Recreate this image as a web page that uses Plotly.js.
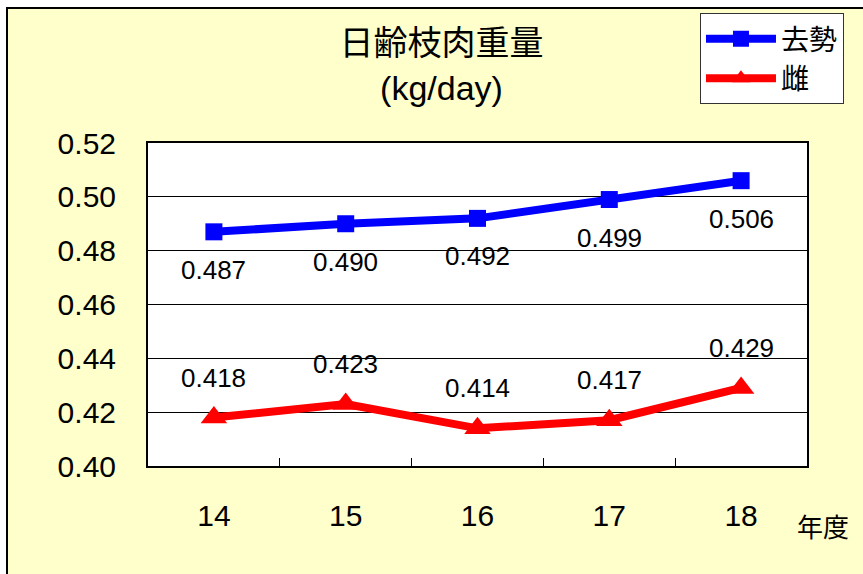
<!DOCTYPE html>
<html>
<head>
<meta charset="utf-8">
<script src="https://cdn.plot.ly/plotly-3.0.1.min.js"></script>
<style>
  html, body { margin:0; padding:0; background:#ffffff; width:863px; height:574px; overflow:hidden; }
  #frame { position:absolute; left:6px; top:7px; width:857px; height:567px; border-left:2px solid #000; border-top:2px solid #000; background:#FFFFCC; }
  #chart { position:absolute; left:0; top:0; width:855px; height:565px; }
</style>
</head>
<body>
<div id="frame"><div id="chart"></div></div>
<script>
const years = ['14', '15', '16', '17', '18'];
const castrated = [0.487, 0.490, 0.492, 0.499, 0.506];
const female = [0.418, 0.423, 0.414, 0.417, 0.429];
const seriesNames = ['去勢', '雌'];
const titleText = '日齢枝肉重量<br>(kg/day)';
const xAxisLabel = '年度';
const yTicks = [0.40, 0.42, 0.44, 0.46, 0.48, 0.50, 0.52];

const FONT = 'Liberation Sans, Arial, Noto Sans CJK JP, sans-serif';
const CJK = 'Noto Sans CJK JP, sans-serif';

const traces = [
  {
    x: years, y: castrated, name: seriesNames[0], type: 'scatter', mode: 'lines+markers',
    line: {color: '#0000FF', width: 8},
    marker: {symbol: 'square', size: 17, color: '#0000FF'},
    cliponaxis: false
  },
  {
    x: years, y: female, name: seriesNames[1], type: 'scatter', mode: 'lines+markers',
    line: {color: '#FF0000', width: 8},
    marker: {symbol: 'triangle-up', size: 23, color: '#FF0000'},
    cliponaxis: false
  }
];

const annotations = [];
years.forEach((yr, i) => {
  annotations.push({x: i, y: castrated[i], xref: 'x', yref: 'y', text: castrated[i].toFixed(3),
    showarrow: false, yshift: -38, font: {family: FONT, size: 26, color: '#000'}});
  annotations.push({x: i, y: female[i], xref: 'x', yref: 'y', text: female[i].toFixed(3),
    showarrow: false, yshift: 40, font: {family: FONT, size: 26, color: '#000'}});
});
annotations.push({xref: 'paper', yref: 'paper', x: 1.024, y: -0.183, xanchor: 'center', yanchor: 'middle',
  text: xAxisLabel, showarrow: false, font: {family: CJK, size: 26, color: '#000'}});

const layout = {
  width: 855, height: 565,
  paper_bgcolor: '#FFFFCC', plot_bgcolor: '#FFFFFF',
  margin: {l: 140, r: 56, t: 134, b: 108, autoexpand: false},
  font: {family: FONT, color: '#000'},
  title: {text: titleText, font: {family: FONT + ', ' + CJK, size: 34, color: '#000'},
    x: 0.507, xref: 'container', xanchor: 'center', y: 0.918, yref: 'container', yanchor: 'top'},
  xaxis: {
    type: 'category', range: [-0.5, 4.5], showgrid: false, showline: true, linecolor: '#000', linewidth: 2, mirror: true,
    ticks: 'inside', tickson: 'boundaries', ticklen: 8, tickcolor: '#000', tickwidth: 1,
    tickfont: {family: FONT, size: 30, color: '#000'}, ticklabelstandoff: 22, zeroline: false,
    tickangle: 0, automargin: false
  },
  yaxis: {
    range: [0.40, 0.52], tickvals: yTicks, ticktext: yTicks.map(v => v.toFixed(2)),
    showgrid: true, gridcolor: '#000', gridwidth: 1, showline: true, linecolor: '#000', linewidth: 2, mirror: true,
    ticks: '', tickfont: {family: FONT, size: 30, color: '#000'}, ticklabelstandoff: 24, zeroline: false,
    automargin: false
  },
  legend: {
    xref: 'paper', yref: 'paper', x: 0.8376, xanchor: 'left', y: 1.402, yanchor: 'top',
    bgcolor: '#FFFFFF', bordercolor: '#333', borderwidth: 1,
    font: {family: CJK, size: 28, color: '#000'}, itemwidth: 70, tracegroupgap: 0
  },
  annotations: annotations,
  showlegend: true
};

Plotly.newPlot('chart', traces, layout, {displayModeBar: false, staticPlot: true});
</script>
</body>
</html>
